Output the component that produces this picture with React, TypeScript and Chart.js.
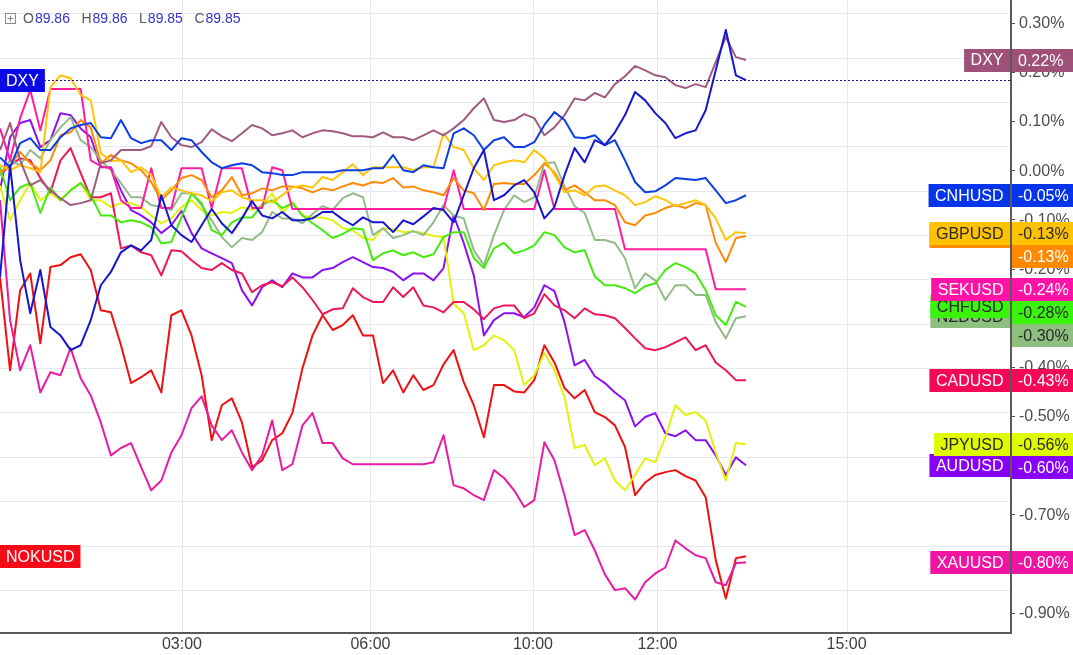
import React, { useEffect, useRef } from 'react';
import { Chart, registerables } from 'chart.js';

Chart.register(...registerables);

// ---- data (percent change), one value per sampled bar ----
const dxyMain = [-0.218,0.010,-0.183,-0.291,-0.203,-0.319,-0.336,-0.366,-0.356,-0.305,
-0.234,-0.207,-0.167,-0.153,-0.163,-0.142,-0.051,-0.112,-0.132,-0.146,
-0.112,-0.079,-0.108,-0.128,-0.098,-0.063,-0.092,-0.098,-0.085,-0.102,
-0.102,-0.098,-0.085,-0.085,-0.100,-0.112,-0.096,-0.106,-0.106,-0.126,
-0.102,-0.110,-0.094,-0.077,-0.081,-0.106,-0.051,0.004,0.041,-0.061,
-0.051,-0.031,-0.020,-0.045,-0.098,-0.075,-0.010,0.045,0.016,0.061,
0.051,0.077,0.112,0.159,0.142,0.116,0.096,0.065,0.075,0.081,
0.122,0.203,0.285,0.193,0.183];

const dxy = [0.041,0.096,0.020,-0.031,-0.020,-0.041,-0.057,-0.071,-0.067,-0.061,
0.014,0.020,0.041,0.041,0.041,0.049,0.098,0.067,0.051,0.047,
0.057,0.083,0.069,0.059,0.075,0.092,0.085,0.071,0.075,0.081,
0.067,0.075,0.081,0.079,0.075,0.069,0.069,0.067,0.077,0.067,
0.067,0.061,0.071,0.081,0.071,0.085,0.102,0.126,0.146,0.102,
0.098,0.102,0.114,0.106,0.071,0.087,0.112,0.146,0.142,0.157,
0.148,0.175,0.191,0.212,0.203,0.193,0.189,0.173,0.167,0.175,
0.169,0.220,0.271,0.230,0.224];

const cnhusd = [0.026,0.006,0.055,0.065,0.041,0.041,0.067,0.085,0.092,0.096,
0.067,0.065,0.102,0.065,0.055,0.061,0.061,0.041,0.065,0.061,
0.037,0.016,0.004,0.010,0.014,0.010,-0.004,-0.006,-0.010,-0.010,
-0.004,-0.004,-0.004,-0.004,0,0,0,0.004,0.004,0.031,
0,-0.004,0.010,0.006,0.004,0.075,0.085,0.071,0.041,0.061,
0.067,0.047,0.047,0.057,0.092,0.118,0.102,0.067,0.065,0.071,
0.051,0.061,0.020,-0.024,-0.045,-0.043,-0.031,-0.016,-0.018,-0.020,
-0.016,-0.041,-0.067,-0.061,-0.051];

const gbpusd = [0.010,0,0.010,0.004,-0.004,0.169,0.193,0.187,0.153,0.142,
0.035,0.018,0.020,-0.004,0.006,-0.010,-0.055,-0.035,-0.041,-0.047,
-0.051,-0.063,-0.045,-0.041,-0.055,-0.061,-0.061,-0.065,-0.051,-0.035,
-0.031,-0.035,-0.014,-0.020,-0.004,0.012,-0.010,0.006,0.006,0.006,
0.006,0,0.006,0.006,0.075,0.047,0.041,0.004,-0.020,0.010,
0.016,0.020,0.016,0.041,0.024,-0.010,-0.045,-0.041,-0.051,-0.033,
-0.031,-0.041,-0.051,-0.071,-0.065,-0.053,-0.061,-0.073,-0.067,-0.061,
-0.071,-0.098,-0.142,-0.126,-0.128];

const eurusd = [-0.004,0.010,0.037,0.014,0,0.020,0.071,0.077,0.102,0.087,
0.014,0.031,0.020,0.014,0,-0.024,-0.061,-0.041,-0.016,-0.010,
-0.020,-0.055,-0.041,-0.014,-0.051,-0.047,-0.037,-0.041,-0.033,-0.033,
-0.037,-0.045,-0.037,-0.041,-0.033,-0.026,-0.031,-0.024,-0.026,-0.016,
-0.035,-0.033,-0.041,-0.045,-0.051,-0.016,-0.041,-0.047,-0.081,-0.028,
-0.026,-0.028,-0.028,-0.010,0.014,-0.004,-0.041,-0.031,-0.045,-0.061,
-0.061,-0.071,-0.106,-0.112,-0.092,-0.087,-0.077,-0.071,-0.077,-0.067,
-0.071,-0.148,-0.187,-0.138,-0.134];

const sekusd = [0.085,0.020,0.106,0.163,0.081,0.165,0.165,0.165,0.165,0.020,
0.008,0.004,-0.061,-0.077,-0.077,0.004,-0.077,-0.077,0.004,0.004,
0.004,-0.077,0.004,0.004,0.004,-0.077,-0.077,0.006,0.000,-0.079,
-0.079,-0.079,-0.079,-0.079,-0.079,-0.079,-0.079,-0.079,-0.079,-0.079,
-0.079,-0.079,-0.079,-0.079,-0.079,0.000,-0.079,-0.079,-0.079,-0.079,
-0.079,-0.079,-0.079,-0.079,0.000,-0.079,-0.079,-0.079,-0.079,-0.079,
-0.079,-0.079,-0.161,-0.161,-0.161,-0.161,-0.161,-0.161,-0.161,-0.161,
-0.161,-0.242,-0.242,-0.242,-0.242];

const chfusd = [0.006,-0.061,-0.035,-0.026,-0.087,-0.035,-0.061,-0.041,-0.026,-0.051,
-0.092,-0.092,-0.106,-0.102,-0.106,-0.116,-0.149,-0.146,-0.096,-0.047,
-0.067,-0.122,-0.132,-0.106,-0.096,-0.096,-0.071,-0.061,-0.077,-0.067,
-0.092,-0.108,-0.122,-0.138,-0.130,-0.118,-0.120,-0.183,-0.169,-0.163,
-0.173,-0.167,-0.177,-0.171,-0.136,-0.126,-0.126,-0.179,-0.199,-0.159,
-0.148,-0.169,-0.163,-0.153,-0.126,-0.132,-0.157,-0.167,-0.163,-0.216,
-0.234,-0.234,-0.240,-0.250,-0.236,-0.230,-0.203,-0.189,-0.197,-0.210,
-0.244,-0.295,-0.315,-0.268,-0.278];

const nzdusd = [-0.010,0.020,0.010,0.041,0.024,0.061,0.087,0.108,0.061,0.047,
0.020,0,-0.026,-0.055,-0.055,-0.071,-0.075,-0.081,-0.047,-0.047,
-0.071,-0.102,-0.136,-0.157,-0.138,-0.142,-0.126,-0.085,-0.098,-0.098,
-0.108,-0.089,-0.073,-0.081,-0.057,-0.047,-0.055,-0.132,-0.118,-0.138,
-0.132,-0.124,-0.132,-0.106,-0.071,-0.092,-0.098,-0.163,-0.193,-0.132,
-0.081,-0.051,-0.065,-0.055,0.014,0.016,-0.033,-0.073,-0.087,-0.142,
-0.142,-0.148,-0.179,-0.240,-0.210,-0.224,-0.264,-0.234,-0.234,-0.254,
-0.254,-0.309,-0.342,-0.301,-0.297];

const cadusd = [-0.010,0.010,0.024,0.020,-0.016,-0.045,0.020,0.045,-0.006,-0.055,
-0.055,-0.047,-0.159,-0.153,-0.167,-0.173,-0.214,-0.163,-0.165,-0.183,
-0.199,-0.203,-0.189,-0.203,-0.210,-0.248,-0.234,-0.228,-0.236,-0.218,
-0.238,-0.264,-0.293,-0.283,-0.281,-0.240,-0.258,-0.268,-0.268,-0.238,
-0.258,-0.238,-0.275,-0.279,-0.289,-0.268,-0.268,-0.283,-0.303,-0.281,
-0.275,-0.275,-0.301,-0.291,-0.252,-0.275,-0.285,-0.301,-0.281,-0.293,
-0.295,-0.301,-0.321,-0.342,-0.362,-0.366,-0.360,-0.350,-0.340,-0.366,
-0.356,-0.391,-0.407,-0.427,-0.427];

const jpyusd = [-0.031,-0.102,-0.061,-0.026,-0.061,-0.047,-0.061,-0.041,-0.026,-0.061,
-0.061,-0.075,-0.067,-0.067,-0.075,-0.092,-0.108,-0.098,-0.075,-0.061,
-0.081,-0.092,-0.085,-0.087,-0.075,-0.081,-0.071,-0.047,-0.087,-0.065,
-0.092,-0.096,-0.096,-0.102,-0.118,-0.122,-0.138,-0.142,-0.118,-0.120,
-0.126,-0.124,-0.128,-0.134,-0.136,-0.271,-0.291,-0.366,-0.356,-0.336,
-0.346,-0.366,-0.437,-0.417,-0.372,-0.407,-0.462,-0.565,-0.559,-0.600,
-0.586,-0.631,-0.651,-0.620,-0.586,-0.594,-0.543,-0.478,-0.498,-0.492,
-0.509,-0.574,-0.631,-0.555,-0.558];

const audusd = [-0.041,0.067,0.096,0.102,0.047,0.061,0.116,0.112,0.085,0.067,
0.006,0.006,-0.041,-0.081,-0.092,-0.106,-0.128,-0.112,-0.083,-0.128,
-0.159,-0.169,-0.179,-0.189,-0.244,-0.275,-0.238,-0.224,-0.238,-0.210,
-0.218,-0.218,-0.203,-0.199,-0.187,-0.177,-0.187,-0.197,-0.199,-0.207,
-0.224,-0.210,-0.210,-0.224,-0.199,-0.092,-0.148,-0.214,-0.336,-0.305,
-0.291,-0.291,-0.299,-0.279,-0.234,-0.246,-0.309,-0.397,-0.386,-0.419,
-0.433,-0.452,-0.468,-0.521,-0.502,-0.494,-0.535,-0.541,-0.529,-0.549,
-0.549,-0.580,-0.620,-0.584,-0.600];

const xauusd = [-0.061,-0.305,-0.407,-0.356,-0.452,-0.411,-0.417,-0.362,-0.423,-0.458,
-0.513,-0.580,-0.565,-0.555,-0.604,-0.651,-0.631,-0.574,-0.539,-0.484,
-0.460,-0.519,-0.549,-0.529,-0.574,-0.610,-0.580,-0.509,-0.610,-0.598,
-0.519,-0.494,-0.555,-0.555,-0.586,-0.598,-0.598,-0.598,-0.598,-0.598,
-0.598,-0.598,-0.598,-0.594,-0.539,-0.641,-0.647,-0.661,-0.671,-0.610,
-0.626,-0.651,-0.685,-0.671,-0.553,-0.590,-0.661,-0.742,-0.732,-0.773,
-0.822,-0.854,-0.850,-0.873,-0.838,-0.820,-0.808,-0.753,-0.769,-0.783,
-0.789,-0.838,-0.844,-0.799,-0.798];

const nokusd = [-0.218,-0.407,-0.244,-0.210,-0.352,-0.197,-0.193,-0.177,-0.171,-0.203,
-0.285,-0.289,-0.356,-0.433,-0.421,-0.407,-0.452,-0.295,-0.285,-0.336,
-0.417,-0.549,-0.478,-0.464,-0.513,-0.604,-0.590,-0.549,-0.535,-0.494,
-0.403,-0.336,-0.295,-0.325,-0.315,-0.295,-0.336,-0.336,-0.433,-0.407,
-0.452,-0.417,-0.447,-0.437,-0.395,-0.366,-0.431,-0.478,-0.543,-0.437,
-0.437,-0.450,-0.452,-0.427,-0.356,-0.391,-0.443,-0.464,-0.447,-0.492,
-0.502,-0.519,-0.563,-0.661,-0.635,-0.620,-0.614,-0.610,-0.622,-0.631,
-0.665,-0.793,-0.871,-0.789,-0.785];

// axis ticks
const yTicks = [0.3, 0.2, 0.1, 0, -0.1, -0.2, -0.3, -0.4, -0.5, -0.6, -0.7, -0.8, -0.9];
const timeTickPos = [18.05, 36.75, 52.87, 65.22, 83.98];
const timeTickLabels = ['03:00', '06:00', '10:00', '12:00', '15:00'];
const legendItems = [['O', '89.86'], ['H', '89.86'], ['L', '89.85'], ['C', '89.85']];

// scale ranges / grid
const X_MIN = 0, X_MAX = 100.19;
const Y_MIN = -0.9412, Y_MAX = 0.3461;
const GRID_START = 0.3191, GRID_STEP = 0.0902;

type S = { name: string; data: number[]; line: string; box: string; txt: string; side: 'left' | 'right' };
const SERIES: S[] = [
  { name: 'DXY', data: dxyMain, line: '#1616cf', box: '#0a0ae6', txt: '#fff', side: 'left' },
  { name: 'CNHUSD', data: cnhusd, line: '#0b3ee5', box: '#0535ea', txt: '#fff', side: 'right' },
  { name: 'DXY', data: dxy, line: '#a15a80', box: '#9e5079', txt: '#fff', side: 'right' },
  { name: 'GBPUSD', data: gbpusd, line: '#ffc40a', box: '#ffc200', txt: '#2a2a2a', side: 'right' },
  { name: 'EURUSD', data: eurusd, line: '#ff8a0a', box: '#ff8a00', txt: '#fff', side: 'right' },
  { name: 'SEKUSD', data: sekusd, line: '#ff1d9e', box: '#ff12a6', txt: '#fff', side: 'right' },
  { name: 'CHFUSD', data: chfusd, line: '#44ea0c', box: '#3bf40e', txt: '#2a2a2a', side: 'right' },
  { name: 'NZDUSD', data: nzdusd, line: '#93bb86', box: '#8dbf7e', txt: '#2a2a2a', side: 'right' },
  { name: 'CADUSD', data: cadusd, line: '#ee1656', box: '#f50757', txt: '#fff', side: 'right' },
  { name: 'JPYUSD', data: jpyusd, line: '#e3f20c', box: '#e0fb00', txt: '#2a2a2a', side: 'right' },
  { name: 'AUDUSD', data: audusd, line: '#8b12ee', box: '#8700f7', txt: '#fff', side: 'right' },
  { name: 'XAUUSD', data: xauusd, line: '#e81ca2', box: '#f014a2', txt: '#fff', side: 'right' },
  { name: 'NOKUSD', data: nokusd, line: '#f01010', box: '#f50a18', txt: '#fff', side: 'left' },
];

const FONT = '"Liberation Sans", Arial, sans-serif';

const overlay = {
  id: 'overlay',
  beforeDraw(chart: any) {
    const { ctx, width, height } = chart;
    ctx.save();
    ctx.fillStyle = '#ffffff';
    ctx.fillRect(0, 0, width, height);
    ctx.restore();
  },
  beforeDatasetsDraw(chart: any) {
    const { ctx, chartArea: { left, right, top, bottom }, scales: { x, y } } = chart;
    ctx.save();
    ctx.strokeStyle = '#e4e9ee';
    ctx.lineWidth = 1;
    ctx.beginPath();
    for (let v = GRID_START; y.getPixelForValue(v) < bottom - 2; v -= GRID_STEP) {
      const py = Math.round(y.getPixelForValue(v)) + 0.5;
      ctx.moveTo(left, py); ctx.lineTo(right, py);
    }
    for (const t of timeTickPos) {
      const px = Math.round(x.getPixelForValue(t)) + 0.5;
      ctx.moveTo(px, top); ctx.lineTo(px, bottom);
    }
    ctx.stroke();
    ctx.restore();
  },
  afterDraw(chart: any) {
    const { ctx, chartArea: { left, right, bottom }, scales: { x, y } } = chart;
    ctx.save();
    ctx.font = `16px ${FONT}`;
    ctx.textBaseline = 'middle';

    // main series price line + left labels
    const main = SERIES[0];
    const mainY = y.getPixelForValue(main.data[main.data.length - 1]);
    ctx.strokeStyle = '#14148a';
    ctx.lineWidth = 1;
    ctx.setLineDash([2, 2]);
    ctx.beginPath();
    ctx.moveTo(44, Math.round(mainY) + 0.5);
    ctx.lineTo(right, Math.round(mainY) + 0.5);
    ctx.stroke();
    ctx.setLineDash([]);

    const H = 23;
    for (const s of SERIES.filter(s => s.side === 'left')) {
      const py = y.getPixelForValue(s.data[s.data.length - 1]);
      const w = ctx.measureText(s.name).width + 12;
      ctx.fillStyle = s.box;
      ctx.fillRect(0, Math.round(py - H / 2), w, H);
      ctx.fillStyle = s.txt;
      ctx.textAlign = 'left';
      ctx.fillText(s.name, 6, py + 1);
    }

    // y tick labels
    ctx.fillStyle = '#4d4d4d';
    ctx.strokeStyle = '#555';
    ctx.textAlign = 'left';
    for (const t of yTicks) {
      const py = y.getPixelForValue(t);
      ctx.beginPath();
      ctx.moveTo(right + 1, Math.round(py) + 0.5);
      ctx.lineTo(right + 5, Math.round(py) + 0.5);
      ctx.stroke();
      ctx.fillText(`${t.toFixed(2)}%`, right + 9, py + 1);
    }

    // right-side labels
    const rights = SERIES.filter(s => s.side === 'right').map(s => ({
      s, v: s.data[s.data.length - 1], py: y.getPixelForValue(s.data[s.data.length - 1]),
    }));
    // name boxes: lower ones first so upper ones sit on top
    const byDesc = [...rights].sort((a, b) => b.py - a.py);
    for (const r of byDesc) {
      const w = ctx.measureText(r.s.name).width + 13;
      ctx.fillStyle = r.s.box;
      ctx.fillRect(right - w, Math.round(r.py - H / 2), w, H);
      ctx.fillStyle = r.s.txt;
      ctx.textAlign = 'left';
      ctx.fillText(r.s.name, right - w + 6.5, r.py + 1);
    }
    // value boxes: stacked to avoid overlap
    const byAsc = [...rights].sort((a, b) => a.py - b.py);
    let prevBottom = -Infinity;
    const placed: { r: any; top: number }[] = [];
    for (const r of byAsc) {
      const top = Math.max(Math.round(r.py - H / 2), prevBottom);
      placed.push({ r, top });
      prevBottom = top + H;
    }
    for (const p of [...placed].reverse()) {
      ctx.fillStyle = p.r.s.box;
      ctx.fillRect(right + 1, p.top, chart.width - right - 1, H);
      ctx.fillStyle = p.r.s.txt;
      ctx.textAlign = 'left';
      ctx.fillText(`${p.r.v.toFixed(2)}%`, right + 8, p.top + H / 2 + 1);
    }

    // axes lines
    ctx.fillStyle = '#5a5a5a';
    ctx.fillRect(right, 0, 2, bottom + 1);
    ctx.fillRect(left, bottom - 1, right + 2 - left, 2);

    // x tick labels
    ctx.fillStyle = '#3d3d3d';
    ctx.textAlign = 'center';
    ctx.font = `16px ${FONT}`;
    timeTickPos.forEach((t, i) => {
      ctx.fillText(timeTickLabels[i], x.getPixelForValue(t), bottom + 12);
    });

    // top-left legend
    ctx.strokeStyle = '#8a8a8a';
    ctx.lineWidth = 1;
    ctx.strokeRect(5.5, 13.5, 10, 10);
    ctx.beginPath();
    ctx.moveTo(7.5, 18.5); ctx.lineTo(13.5, 18.5);
    ctx.moveTo(10.5, 15.5); ctx.lineTo(10.5, 21.5);
    ctx.stroke();
    ctx.font = `14px ${FONT}`;
    ctx.textAlign = 'left';
    let lx = 23;
    for (const [k, v] of legendItems) {
      ctx.fillStyle = '#5a5a5a';
      ctx.fillText(k, lx, 19);
      lx += ctx.measureText(k).width + 1;
      ctx.fillStyle = '#3434c6';
      ctx.fillText(v, lx, 19);
      lx += ctx.measureText(v).width + 11.5;
    }
    ctx.restore();
  },
};

export default function App() {
  const ref = useRef<HTMLCanvasElement>(null);
  useEffect(() => {
    const canvas = ref.current;
    if (!canvas) return;
    const chart = new Chart(canvas, {
      type: 'line',
      data: {
        datasets: SERIES.map(s => ({
          label: s.name,
          data: s.data.map((v, i) => ({ x: i, y: v })),
          borderColor: s.line,
          backgroundColor: s.line,
          borderWidth: 2,
          pointRadius: 0,
          tension: 0,
          borderJoinStyle: 'round' as const,
          fill: false,
        })),
      },
      options: {
        responsive: false,
        animation: false,
        events: [],
        layout: { padding: { left: 0, top: 0, right: 63, bottom: 22 } },
        plugins: { legend: { display: false }, tooltip: { enabled: false } },
        scales: {
          x: { type: 'linear', display: false, min: X_MIN, max: X_MAX },
          y: { type: 'linear', display: false, min: Y_MIN, max: Y_MAX },
        },
      },
      plugins: [overlay],
    });
    return () => chart.destroy();
  }, []);
  return (
    <div style={{ position: 'fixed', left: 0, top: 0, width: 1073, height: 655, background: '#fff' }}>
      <canvas ref={ref} width={1073} height={655} style={{ display: 'block', width: 1073, height: 655 }} />
    </div>
  );
}
